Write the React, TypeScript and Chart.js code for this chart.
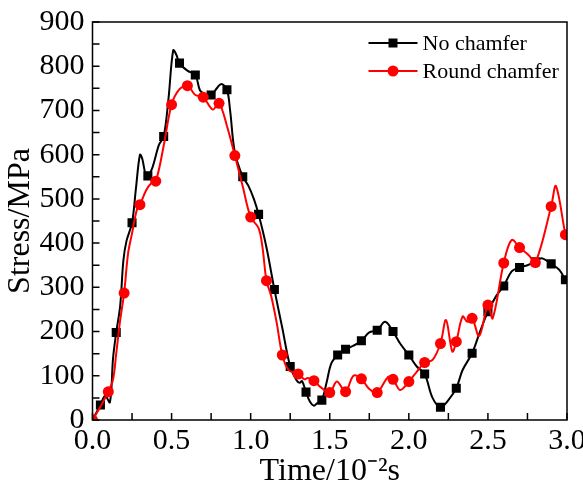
import { useEffect, useRef } from "react";
import { Chart, registerables } from "chart.js";

Chart.register(...registerables);

const seriesNames = ["No chamfer", "Round chamfer"];
const xTickLabels = ["0.0", "0.5", "1.0", "1.5", "2.0", "2.5", "3.0"];
const yTickLabels = ["0", "100", "200", "300", "400", "500", "600", "700", "800", "900"];

// No chamfer: smooth curve samples
const noChamferX = [
  0.0, 0.05, 0.08, 0.11, 0.13, 0.15, 0.175, 0.195, 0.215, 0.25, 0.275, 0.3, 0.315, 0.335, 0.35, 0.38, 0.42,
  0.45, 0.48, 0.51, 0.53, 0.55, 0.6, 0.65, 0.68, 0.71, 0.75, 0.79, 0.815, 0.85, 0.87, 0.9, 0.95, 0.985, 1.02,
  1.05, 1.1, 1.15, 1.2, 1.25, 1.29, 1.31, 1.325, 1.35, 1.375, 1.4, 1.42, 1.45, 1.48, 1.51, 1.55, 1.6, 1.65,
  1.7, 1.75, 1.8, 1.85, 1.9, 1.945, 2.0, 2.05, 2.1, 2.15, 2.2, 2.25, 2.3, 2.34, 2.4, 2.45, 2.5, 2.55, 2.6,
  2.65, 2.7, 2.75, 2.8, 2.84, 2.9, 2.95, 2.99, 3.0,
];
const noChamferY = [
  0, 34, 55, 40, 140, 198, 258, 360, 405, 446, 525, 600, 590, 556, 552, 572, 622,
  641, 725, 836, 826, 807, 790, 780, 745, 737, 735, 752, 760, 747, 700, 605, 550, 530, 500,
  465, 390, 295, 208, 121, 90, 84, 88, 63, 41, 32, 38, 45, 85, 128, 147, 160, 168,
  179, 198, 203, 222, 200, 173, 147, 121, 104, 50, 29, 45, 72, 113, 151, 200, 245, 279, 303,
  336, 345, 350, 358, 366, 353, 340, 317, 313,
];
// No chamfer: square markers
const noChamferMarkX = [
  0.05, 0.15, 0.25, 0.35, 0.45, 0.55, 0.65, 0.75, 0.85, 0.95, 1.05, 1.15, 1.25, 1.35, 1.45, 1.55, 1.6,
  1.7, 1.8, 1.9, 2.0, 2.1, 2.2, 2.3, 2.4, 2.5, 2.6, 2.7, 2.8, 2.9, 2.99,
];
const noChamferMarkY = [
  34, 198, 446, 552, 641, 807, 780, 735, 747, 550, 465, 295, 121, 63, 45, 147, 160,
  179, 203, 200, 147, 104, 29, 72, 151, 245, 303, 345, 358, 353, 317,
];

// Round chamfer: smooth curve samples
const roundChamferX = [
  0.0, 0.05, 0.1, 0.13, 0.15, 0.175, 0.2, 0.225, 0.25, 0.28, 0.3, 0.34, 0.37, 0.4, 0.45, 0.5, 0.55, 0.6,
  0.65, 0.7, 0.76, 0.8, 0.85, 0.9, 0.95, 1.0, 1.05, 1.075, 1.1, 1.13, 1.165, 1.2, 1.24, 1.3, 1.34, 1.36,
  1.4, 1.44, 1.5, 1.545, 1.6, 1.65, 1.7, 1.75, 1.8, 1.87, 1.9, 1.945, 2.0, 2.05, 2.1, 2.15, 2.2, 2.235,
  2.275, 2.3, 2.34, 2.37, 2.4, 2.445, 2.5, 2.53, 2.6, 2.65, 2.7, 2.76, 2.8, 2.9, 2.93, 2.99, 3.0,
];
const roundChamferY = [
  0, 30, 64, 92, 150, 226, 287, 377, 422, 475, 487, 520, 535, 540, 620, 713, 748, 756,
  735, 730, 702, 716, 665, 598, 528, 459, 434, 390, 315, 280, 219, 147, 113, 104, 92, 95,
  89, 75, 62, 87, 64, 100, 93, 70, 62, 98, 92, 68, 87, 109, 130, 136, 173, 226,
  155, 177, 234, 222, 230, 190, 260, 230, 355, 407, 390, 372, 356, 483, 529, 419, 410,
];
// Round chamfer: circle markers
const roundChamferMarkX = [
  0.0, 0.1, 0.2, 0.3, 0.4, 0.5, 0.6, 0.7, 0.8, 0.9, 1.0, 1.1, 1.2, 1.3, 1.4, 1.5, 1.6, 1.7, 1.8, 1.9,
  2.0, 2.1, 2.2, 2.3, 2.4, 2.5, 2.6, 2.7, 2.8, 2.9, 2.99,
];
const roundChamferMarkY = [
  0, 64, 287, 487, 540, 713, 756, 730, 716, 598, 459, 315, 147, 104, 89, 62, 64, 93, 62, 92,
  87, 130, 173, 177, 230, 260, 355, 390, 356, 483, 419,
];

const FONT = "'Liberation Serif', 'Times New Roman', serif";
const BLACK = "#000000";
const RED = "#ff0000";

const toPoints = (xs: number[], ys: number[]) => xs.map((x, i) => ({ x, y: ys[i] }));

const frameLegendPlugin = {
  id: "frameLegend",
  afterDatasetsDraw(chart: any) {
    const { ctx, chartArea: a, scales } = chart;
    ctx.save();
    // frame
    ctx.strokeStyle = BLACK;
    ctx.lineWidth = 1.5;
    ctx.strokeRect(a.left, a.top, a.right - a.left, a.bottom - a.top);
    // inward ticks (major + minor) on bottom and left
    ctx.beginPath();
    for (let v = 0; v <= 3.0001; v += 0.25) {
      const p = scales.x.getPixelForValue(v);
      ctx.moveTo(p, a.bottom);
      ctx.lineTo(p, a.bottom - 7);
    }
    for (let v = 0; v <= 900.001; v += 50) {
      const p = scales.y.getPixelForValue(v);
      ctx.moveTo(a.left, p);
      ctx.lineTo(a.left + 7, p);
    }
    ctx.stroke();

    // legend
    const lx0 = a.left + 276;
    const lx1 = a.left + 325;
    const rows = [a.top + 21, a.top + 49];
    const colors = [BLACK, RED];
    ctx.font = `22px ${FONT}`;
    ctx.textBaseline = "middle";
    ctx.textAlign = "left";
    rows.forEach((y, i) => {
      ctx.strokeStyle = colors[i];
      ctx.lineWidth = 2;
      ctx.beginPath();
      ctx.moveTo(lx0, y);
      ctx.lineTo(lx1, y);
      ctx.stroke();
      ctx.fillStyle = colors[i];
      const cx = (lx0 + lx1) / 2;
      if (i === 0) {
        ctx.fillRect(cx - 4.5, y - 4.5, 9, 9);
      } else {
        ctx.beginPath();
        ctx.arc(cx, y, 5.5, 0, Math.PI * 2);
        ctx.fill();
      }
      ctx.fillStyle = BLACK;
      ctx.fillText(seriesNames[i], lx1 + 5, y + 1);
    });
    ctx.restore();
  },
};

export default function App() {
  const ref = useRef<HTMLCanvasElement | null>(null);

  useEffect(() => {
    if (!ref.current) return;
    const chart = new Chart(ref.current, {
      type: "line",
      data: {
        datasets: [
          {
            label: seriesNames[1] + " markers",
            data: toPoints(roundChamferMarkX, roundChamferMarkY),
            showLine: false,
            pointStyle: "circle",
            pointRadius: 5.5,
            pointBackgroundColor: RED,
            pointBorderWidth: 0,
            borderColor: RED,
            order: 0,
          },
          {
            label: seriesNames[1],
            data: toPoints(roundChamferX, roundChamferY),
            borderColor: RED,
            borderWidth: 2,
            pointRadius: 0,
            tension: 0.35,
            fill: false,
            order: 1,
          },
          {
            label: seriesNames[0] + " markers",
            data: toPoints(noChamferMarkX, noChamferMarkY),
            showLine: false,
            pointStyle: "rect",
            pointRadius: 6.4,
            pointBackgroundColor: BLACK,
            pointBorderWidth: 0,
            borderColor: BLACK,
            order: 2,
          },
          {
            label: seriesNames[0],
            data: toPoints(noChamferX, noChamferY),
            borderColor: BLACK,
            borderWidth: 2,
            pointRadius: 0,
            tension: 0.35,
            fill: false,
            order: 3,
          },
        ],
      },
      options: {
        animation: false,
        responsive: false,
        layout: { padding: { top: 22, right: 16, left: 0, bottom: 0 } },
        plugins: { legend: { display: false }, tooltip: { enabled: false } },
        scales: {
          x: {
            type: "linear",
            min: 0,
            max: 3,
            grid: { display: false, drawTicks: false },
            border: { display: false },
            ticks: {
              stepSize: 0.5,
              autoSkip: false,
              maxRotation: 0,
              padding: 3,
              color: BLACK,
              font: { family: FONT, size: 30 },
              callback: (_v: any, i: number) => xTickLabels[i],
            },
            title: {
              display: true,
              text: "Time/10⁻²s",
              color: BLACK,
              font: { family: FONT, size: 32 },
              padding: { top: 0, bottom: -3 },
            },
            afterFit: (s: any) => {
              s.height = 68;
              s.paddingLeft = 0;
              s.paddingRight = 0;
            },
          },
          y: {
            type: "linear",
            min: 0,
            max: 900,
            grid: { display: false, drawTicks: false },
            border: { display: false },
            ticks: {
              stepSize: 100,
              autoSkip: false,
              padding: 8,
              color: BLACK,
              font: { family: FONT, size: 30 },
              callback: (_v: any, i: number) => yTickLabels[i],
            },
            title: {
              display: true,
              text: "Stress/MPa",
              color: BLACK,
              font: { family: FONT, size: 32 },
              padding: { top: 1, bottom: 0 },
            },
            afterFit: (s: any) => {
              s.width = 92.5;
              s.paddingTop = 0;
              s.paddingBottom = 0;
            },
          },
        },
      },
      plugins: [frameLegendPlugin],
    });
    return () => chart.destroy();
  }, []);

  return (
    <div style={{ position: "absolute", left: 0, top: 0, width: 583, height: 488, background: "#fff" }}>
      <canvas ref={ref} width={583} height={488} style={{ display: "block" }} />
    </div>
  );
}
